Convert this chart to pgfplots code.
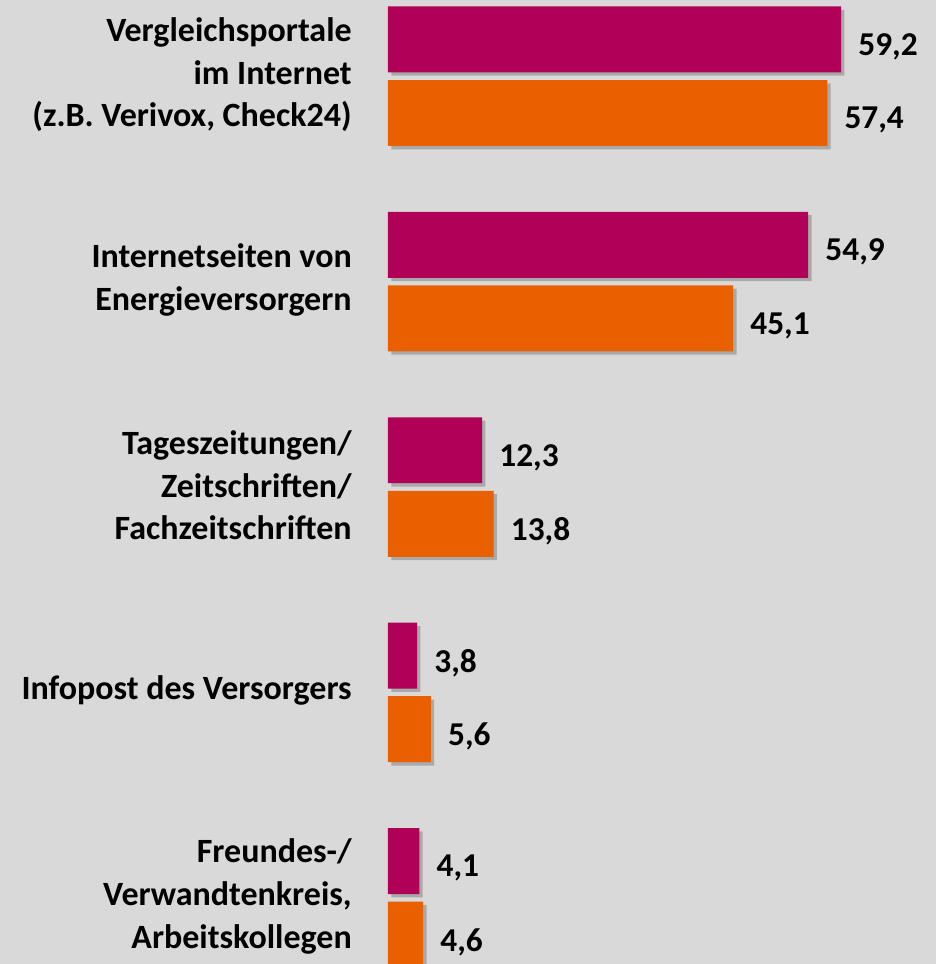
\documentclass[border=0pt]{standalone}
\usepackage{fontspec}
\setmainfont{Carlito}
\usepackage{pgfplots}
\pgfplotsset{compat=1.18}
\usetikzlibrary{shadows}
\definecolor{bg}{HTML}{D9D9D9}
\definecolor{magenta}{HTML}{B00058}
\definecolor{orange}{HTML}{E96000}
\begin{document}
\begin{tikzpicture}
\fill[bg] (0,0) rectangle (702pt,723pt);
\begin{axis}[
  at={(291pt,0pt)}, anchor=south west,
  scale only axis,
  width=411pt, height=723pt,
  xbar, bar width=0.321, bar shift=0,
  xmin=0, xmax=71.6,
  ymin=-4.323, ymax=0.37,
  axis line style={draw=none},
  xtick=\empty,
  ytick={-4,-3,-2,-1,0},
  yticklabels={
    {Freundes-/\\Verwandtenkreis,\\Arbeitskollegen},
    {Infopost des Versorgers},
    {Tageszeitungen/\\Zeitschriften/\\Fachzeitschriften},
    {Internetseiten von\\Energieversorgern},
    {Vergleichsportale\\im Internet\\(z.B. Verivox, Check24)}},
  major tick length=0pt,
  yticklabel style={align=right, anchor=east, inner sep=0pt, xshift=-27pt, yshift=1pt,
    font=\fontsize{25.5}{32}\selectfont\bfseries},
  nodes near coords={\pgfmathprintnumber[fixed,fixed zerofill,precision=1,use comma,assume math mode=true]{\pgfplotspointmeta}},
  point meta=x,
  every node near coord/.append style={anchor=west, inner sep=0pt, xshift=12.75pt, yshift=-5.5pt,
    font=\fontsize{25}{30}\selectfont\bfseries, text=black},
  clip=true,
]
\addplot[fill=magenta, draw=none,
  drop shadow={shadow xshift=2.5pt, shadow yshift=-2.5pt, fill=black, opacity=0.22}]
  coordinates {(59.2,0.178) (54.9,-0.822) (12.3,-1.822) (3.8,-2.822) (4.1,-3.822)};
\addplot[fill=orange, draw=none,
  drop shadow={shadow xshift=2.5pt, shadow yshift=-2.5pt, fill=black, opacity=0.22}]
  coordinates {(57.4,-0.18) (45.1,-1.18) (13.8,-2.18) (5.6,-3.18) (4.6,-4.18)};
\end{axis}
\pgfresetboundingbox
\path (0,0) rectangle (702pt,723pt);
\end{tikzpicture}
\end{document}
